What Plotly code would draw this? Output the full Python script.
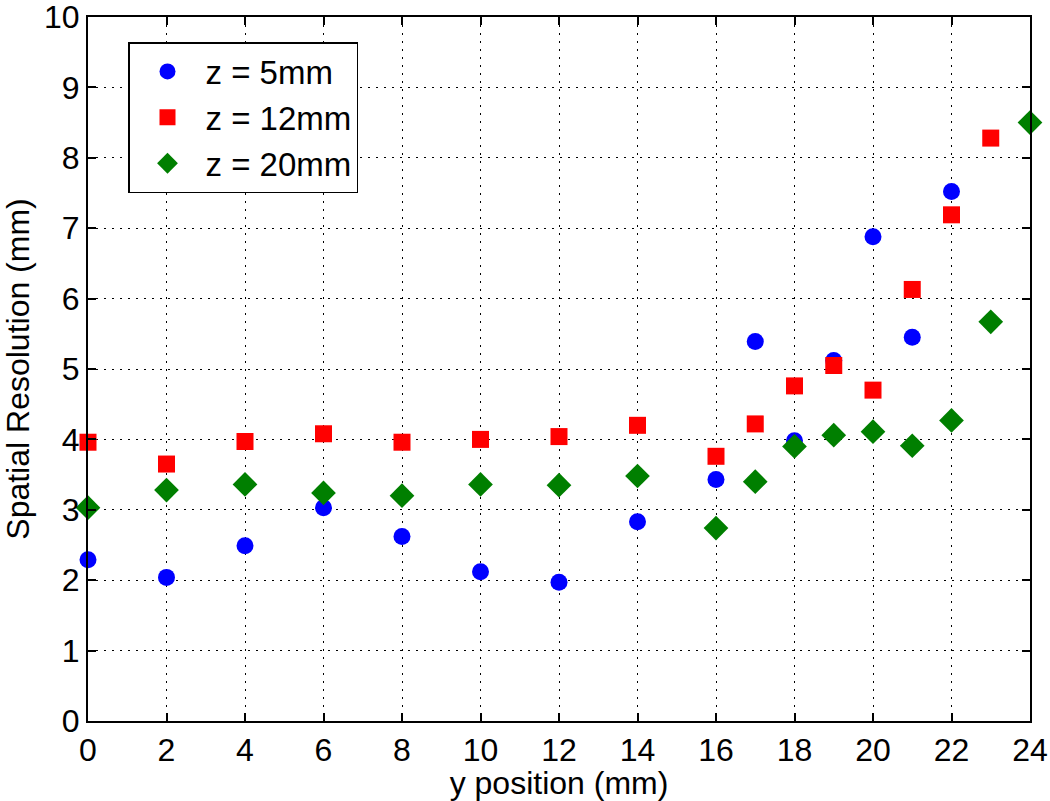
import plotly.graph_objects as go

# Data
x_z5 = [0, 2, 4, 6, 8, 10, 12, 14, 16, 17, 18, 19, 20, 21, 22]
res_z5 = [2.29, 2.04, 2.49, 3.03, 2.62, 2.12, 1.97, 2.83, 3.43, 5.39, 3.98, 5.12, 6.88, 5.45, 7.52]

x_z12 = [0, 2, 4, 6, 8, 10, 12, 14, 16, 17, 18, 19, 20, 21, 22, 23]
res_z12 = [3.96, 3.65, 3.97, 4.08, 3.96, 4.00, 4.04, 4.20, 3.76, 4.22, 4.76, 5.05, 4.70, 6.13, 7.19, 8.28]

x_z20 = [0, 2, 4, 6, 8, 10, 12, 14, 16, 17, 18, 19, 20, 21, 22, 23, 24]
res_z20 = [3.03, 3.28, 3.36, 3.24, 3.20, 3.36, 3.35, 3.48, 2.74, 3.40, 3.90, 4.06, 4.11, 3.91, 4.27, 5.67, 8.50]

x_ticks = list(range(0, 25, 2))
y_ticks = list(range(0, 11))

series = [
    ("z = 5mm", x_z5, res_z5, "circle", "#0000FF", 17),
    ("z = 12mm", x_z12, res_z12, "square", "#FF0000", 17),
    ("z = 20mm", x_z20, res_z20, "diamond", "#007F00", 19),
]

FONT = "Liberation Sans, Arial, sans-serif"

fig = go.Figure()
for i, (name, xs, ys, sym, col, sz) in enumerate(series):
    fig.add_trace(go.Scatter(
        x=xs, y=ys, mode="markers", name=name, legendgroup=f"g{i}",
        marker=dict(symbol=sym, color=col, size=sz, line=dict(width=0)),
        cliponaxis=False,
    ))

axis_common = dict(
    showline=True, linecolor="black", linewidth=2, mirror="ticks",
    ticks="inside", ticklen=8, tickwidth=2, tickcolor="black",
    showgrid=True, gridcolor="black", gridwidth=1, griddash="2px,6px",
    zeroline=False, ticklabeloverflow="allow",
    tickfont=dict(family=FONT, size=32, color="black"),
    title_font=dict(family=FONT, size=32, color="black"),
)

fig.update_xaxes(
    range=[0, 24], tickvals=x_ticks, ticktext=[str(v) for v in x_ticks],
    title_text="y position (mm)", title_standoff=0, ticklabelstandoff=0,
    **axis_common,
)
fig.update_yaxes(
    range=[0, 10], tickvals=y_ticks, ticktext=[str(v) for v in y_ticks],
    title_text="Spatial Resolution (mm)", title_standoff=12, ticklabelstandoff=0,
    **axis_common,
)

fig.update_layout(
    width=1050, height=801,
    margin=dict(l=88, r=20, t=17, b=80, autoexpand=False),
    paper_bgcolor="white", plot_bgcolor="white",
    showlegend=True,
    legend=dict(
        x=(128 - 88) / 942, y=(721 - 42) / 704, xanchor="left", yanchor="top",
        bgcolor="white", bordercolor="black", borderwidth=1.5,
        font=dict(family=FONT, size=33, color="black"),
        tracegroupgap=0, itemwidth=66,
    ),
)

fig.write_html("out.html", config={"displayModeBar": False},
               post_script="document.body.style.margin='0';")
